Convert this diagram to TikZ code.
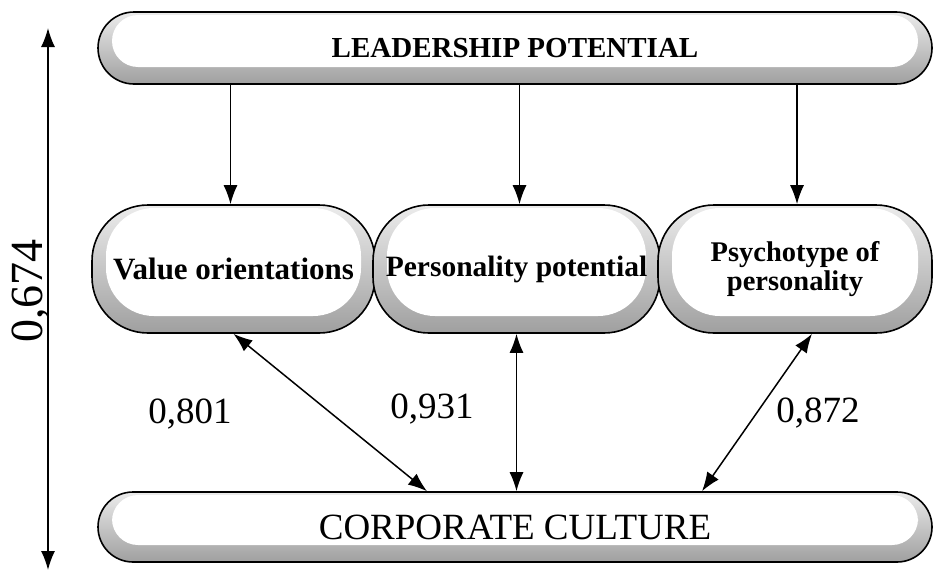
\documentclass[tikz,border=0pt]{standalone}
\usepackage{fontspec}
\setmainfont{Liberation Serif}
\usetikzlibrary{arrows.meta}
\newcommand{\sized}[1]{\fontsize{#1}{#1}\selectfont}

\begin{document}
\begin{tikzpicture}[x=1pt,y=-1pt]
  \tikzset{capsule/.style 2 args={draw=black, line width=1.6pt, rounded corners=#1,
             top color=gray!15, bottom color=gray!75, inner sep=0pt,
             path picture={\fill[white, rounded corners=#2]
               ([shift={(14pt,17pt)}]path picture bounding box.south west) rectangle
               ([shift={(-14pt,-3pt)}]path picture bounding box.north east);}},
           link/.style={line width=1.5pt, -{Latex[length=19pt,width=14pt]}},
           both/.style={line width=1.5pt, {Latex[length=19pt,width=14pt]}-{Latex[length=19pt,width=14pt]}}}
  \useasboundingbox (0,0) rectangle (933,573);
  \node[capsule={36pt}{26pt}, minimum width=834pt, minimum height=72pt, font=\bfseries\sized{29}] (lead) at (515,48) {LEADERSHIP POTENTIAL};
  \node[capsule={56pt}{48pt}, minimum width=283pt, minimum height=128pt, font=\bfseries\sized{31}] (val) at (233.5,269) {Value orientations};
  \node[capsule={56pt}{48pt}, minimum width=287pt, minimum height=128pt, font=\bfseries\sized{29.5}] (pers) at (516.5,269) {Personality potential};
  \node[capsule={56pt}{48pt}, minimum width=274pt, minimum height=128pt, font=\bfseries\sized{28.5}, align=center] (psy) at (795,269) {Psychotype of\\personality};
  \node[capsule={35pt}{26pt}, minimum width=834pt, minimum height=70pt, font=\sized{37}] (corp) at (515,527) {CORPORATE CULTURE};
  % arrows from the top
  \draw[link] ([xshift=-3pt]lead.south -| val.north) -- ([xshift=-3pt]val.north);
  \draw[link] ([xshift=3pt]lead.south -| pers.north) -- ([xshift=3pt]pers.north);
  \draw[link] ([xshift=2pt]lead.south -| psy.north) -- ([xshift=2pt]psy.north);
  % links to the culture
  \draw[both] (val.south) -- ([xshift=-88pt]corp.north);
  \draw[both] (pers.south) -- (pers.south |- corp.north);
  \draw[both] ([xshift=17pt]psy.south) -- ([xshift=187pt]corp.north);
  \node[font=\sized{37}] (r1) at (190,414) {0,801};
  \node[font=\sized{37}] (r2) at (432,409) {0,931};
  \node[font=\sized{37}] (r3) at (818,413) {0,872};
  % overall scale
  \coordinate (scaletop) at (48,28);
  \coordinate (scalebot) at (48,570);
  \draw[both] (scaletop) -- (scalebot);
  \node[rotate=90, font=\sized{46}] (r0) at (31,291) {0,674};
\end{tikzpicture}
\end{document}
